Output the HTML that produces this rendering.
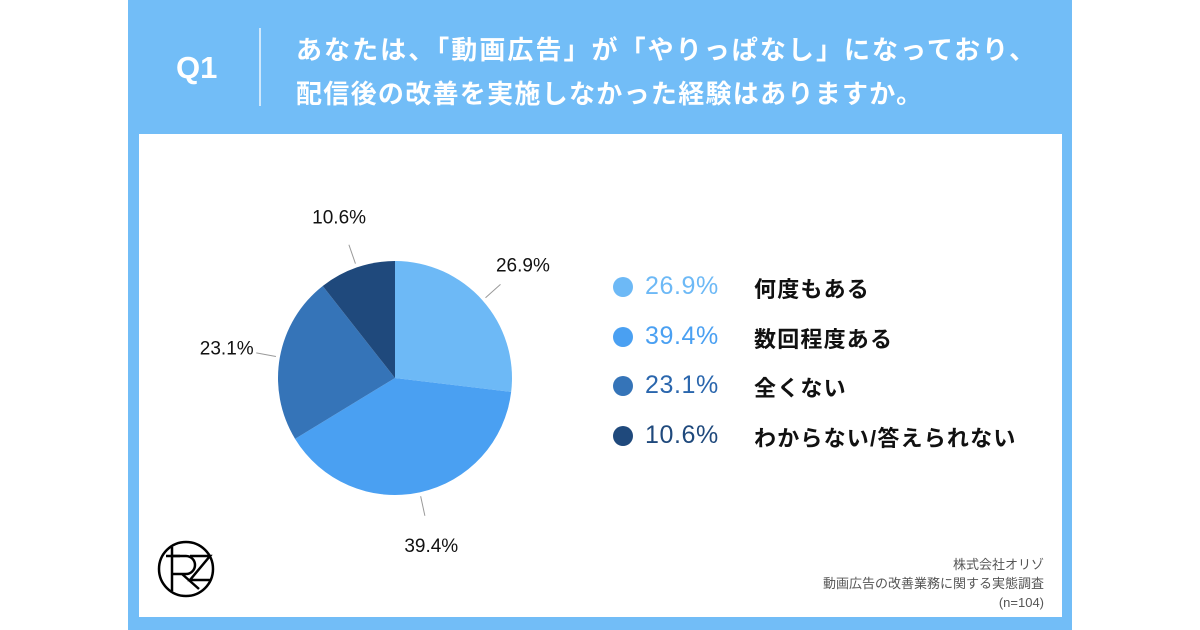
<!DOCTYPE html>
<html><head><meta charset="utf-8"><style>
body{margin:0;width:1200px;height:630px;background:#fff;overflow:hidden;font-family:"Liberation Sans","Noto Sans CJK JP",sans-serif}
#panel{position:absolute;left:128px;top:0;width:944px;height:630px;background:#72bdf7}
#card{position:absolute;left:139px;top:134px;width:923px;height:483px;background:#fff}
.t{position:absolute;white-space:nowrap}
</style></head><body>
<div id="panel"></div>
<div id="card"></div>
<div class="t" style="left:176px;top:50px;color:#fff;font-size:31px;font-weight:bold">Q1</div>
<div style="position:absolute;left:259px;top:28px;width:2px;height:78px;background:#cfe8fc"></div>
<div class="t" style="left:296px;top:28px;color:#fff;font-size:26px;font-weight:bold;line-height:44px;letter-spacing:1.3px"><span style="letter-spacing:2.05px">あなたは、「動画広告」が「やりっぱなし」になっており、</span><br>配信後の改善を実施しなかった経験はありますか。</div>
<svg width="1200" height="630" style="position:absolute;left:0;top:0">
<g id="pie"></g>
<g fill="none" stroke="#000" stroke-width="2.5">
<circle cx="186" cy="569" r="27"/><line x1="172" y1="547" x2="172" y2="591"/><line x1="166" y1="556" x2="180" y2="556"/>
<path d="M172 556 H186 a9 9 0 0 1 0 18 H172 M182 574 L199 589"/><path d="M190 556 H210 L190 580 H211"/>
</g>
</svg>
<div id="legend"></div>
<div class="t" style="right:156px;top:555px;text-align:right;font-size:13px;color:#555;line-height:19px">株式会社オリゾ<br>動画広告の改善業務に関する実態調査<br>(n=104)</div>
<script>
const labels=["何度もある","数回程度ある","全くない","わからない/答えられない"];
const values=[26.9,39.4,23.1,10.6];
const colors=["#6db9f6","#4aa0f2","#3574b8","#1f497c"];
const textColors=["#6db9f6","#4aa0f2","#2a66ad","#1f497c"];
const cx=395,cy=378,r=117;
const ns="http://www.w3.org/2000/svg";
const g=document.getElementById('pie');
const total=values.reduce((a,b)=>a+b,0);
let a0=-Math.PI/2;
values.forEach((v,i)=>{
 const a1=a0+v/total*2*Math.PI;
 const p=document.createElementNS(ns,'path');
 const large=(a1-a0)>Math.PI?1:0;
 p.setAttribute('d',`M${cx},${cy} L${cx+r*Math.cos(a0)},${cy+r*Math.sin(a0)} A${r},${r} 0 ${large} 1 ${cx+r*Math.cos(a1)},${cy+r*Math.sin(a1)} Z`);
 p.setAttribute('fill',colors[i]);
 
 
 g.appendChild(p);
 const m=(a0+a1)/2;
 const l=document.createElementNS(ns,'line');
 l.setAttribute('x1',cx+(r+4)*Math.cos(m));l.setAttribute('y1',cy+(r+4)*Math.sin(m));
 l.setAttribute('x2',cx+(r+24)*Math.cos(m));l.setAttribute('y2',cy+(r+24)*Math.sin(m));
 l.setAttribute('stroke','#999');l.setAttribute('stroke-width','1');
 
 
 g.appendChild(l);
 const t=document.createElementNS(ns,'text');
 const tx=cx+(r+54)*Math.cos(m),ty=cy+(r+54)*Math.sin(m);
 t.setAttribute('x',tx);t.setAttribute('y',ty+7);
 t.setAttribute('text-anchor','middle');t.setAttribute('font-size','19');t.setAttribute('fill','#111');
 t.textContent=v.toFixed(1)+'%';
 
 
 g.appendChild(t);
 a0=a1;
});
const lg=document.getElementById('legend');
labels.forEach((lab,i)=>{
 const y=287+i*49.7;
 const d=document.createElement('div');
 
 
 d.innerHTML=`<div style="position:absolute;left:613px;top:${y-10}px;width:20px;height:20px;border-radius:50%;background:${colors[i]}"></div>
 <div class="t" style="left:645px;top:${y-15}px;font-size:25px;letter-spacing:0.6px;color:${textColors[i]}">${values[i].toFixed(1)}%</div>
 <div class="t" style="left:754px;top:${y-15}px;font-size:22px;letter-spacing:1.2px;font-weight:bold;color:#111">${lab}</div>`;
 lg.appendChild(d);
});
</script>
</body></html>
